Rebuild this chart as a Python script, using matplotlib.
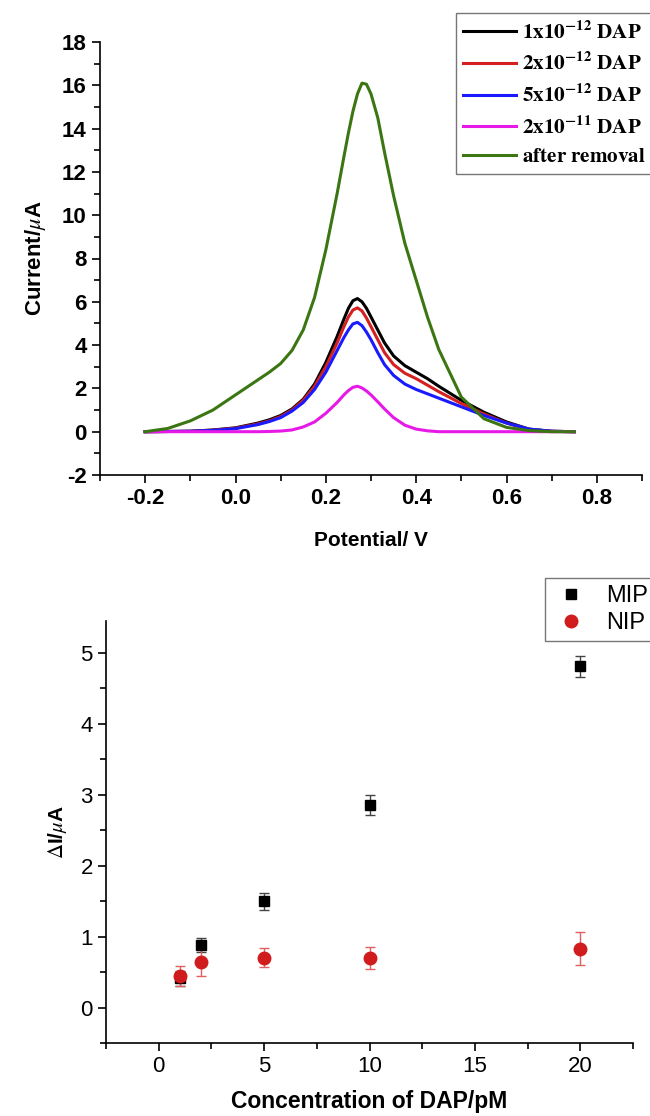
import numpy as np
import matplotlib
matplotlib.use("Agg")
import matplotlib.pyplot as plt
from matplotlib.ticker import MultipleLocator
from matplotlib.lines import Line2D

plt.rcParams['font.family'] = ['Liberation Sans', 'DejaVu Sans']
plt.rcParams['mathtext.fontset'] = 'stix'
plt.rcParams['axes.unicode_minus'] = False

#===================== DPV curves (top) =====================
pot = [-0.2, -0.15, -0.1, -0.05, 0.0, 0.05, 0.075, 0.1, 0.125, 0.15, 0.175, 0.2,
       0.225, 0.24, 0.25, 0.26, 0.27, 0.28, 0.29, 0.3, 0.315, 0.33, 0.35, 0.375,
       0.4, 0.425, 0.45, 0.5, 0.55, 0.6, 0.65, 0.7, 0.75]
i_1e12 = [0, 0.01, 0.02, 0.08, 0.18, 0.4, 0.55, 0.75, 1.05, 1.5, 2.2, 3.2,
          4.4, 5.2, 5.7, 6.05, 6.15, 6.0, 5.7, 5.3, 4.7, 4.1, 3.5, 3.05,
          2.75, 2.45, 2.1, 1.45, 0.9, 0.45, 0.12, 0.02, 0]
i_2e12 = [0, 0.01, 0.02, 0.07, 0.16, 0.36, 0.5, 0.7, 1.0, 1.45, 2.1, 3.0,
          4.1, 4.85, 5.3, 5.62, 5.72, 5.58, 5.25, 4.85, 4.25, 3.65, 3.1, 2.7,
          2.45, 2.15, 1.85, 1.3, 0.82, 0.4, 0.1, 0.02, 0]
i_5e12 = [0, 0.01, 0.02, 0.06, 0.14, 0.33, 0.47, 0.65, 0.95, 1.35, 1.95, 2.75,
          3.75, 4.35, 4.7, 4.98, 5.05, 4.9, 4.6, 4.25, 3.65, 3.1, 2.6, 2.2,
          1.95, 1.75, 1.55, 1.15, 0.75, 0.4, 0.12, 0.02, 0]
i_2e11 = [0, 0, 0, 0, 0, 0, 0.01, 0.03, 0.08, 0.22, 0.45, 0.85,
          1.35, 1.7, 1.9, 2.05, 2.1, 2.02, 1.88, 1.7, 1.38, 1.05, 0.65, 0.3,
          0.12, 0.04, 0.0, 0, 0, 0, 0, 0, 0]
i_after = [0, 0.15, 0.5, 1.0, 1.7, 2.4, 2.75, 3.15, 3.75, 4.7, 6.2, 8.4,
           11.0, 12.7, 13.8, 14.8, 15.6, 16.1, 16.05, 15.6, 14.5, 12.9, 10.9, 8.7,
           7.0, 5.3, 3.8, 1.6, 0.6, 0.2, 0.05, 0.0, 0]

labels = [r'$\mathbf{1x10^{-12}\ DAP}$', r'$\mathbf{2x10^{-12}\ DAP}$',
          r'$\mathbf{5x10^{-12}\ DAP}$', r'$\mathbf{2x10^{-11}\ DAP}$',
          r'$\mathbf{after\ removal}$']
colors = ['#000000', '#d42020', '#1a1aff', '#e619e6', '#3c7612']

#===================== calibration (bottom) =====================
conc = [1, 2, 5, 10, 20]
mip = [0.41, 0.88, 1.50, 2.85, 4.81]
mip_err = [0.11, 0.10, 0.12, 0.14, 0.15]
nip = [0.45, 0.64, 0.70, 0.70, 0.83]
nip_err = [0.14, 0.19, 0.135, 0.155, 0.235]

fig = plt.figure(figsize=(6.5, 11.16), dpi=100)

#--------- top panel
ax = fig.add_axes([100/650, 1-475/1116, 542/650, 433/1116])
for y, c, l in zip([i_1e12, i_2e12, i_5e12, i_2e11, i_after], colors, labels):
    ax.plot(pot, y, color=c, lw=2.2, label=l, solid_joinstyle='round')
ax.set_xlim(-0.3, 0.9)
ax.set_ylim(-2, 18)
ax.xaxis.set_minor_locator(MultipleLocator(0.1))
ax.yaxis.set_major_locator(MultipleLocator(2))
ax.yaxis.set_minor_locator(MultipleLocator(1))
ax.set_xticks([-0.2, 0.0, 0.2, 0.4, 0.6, 0.8])
ax.set_xticklabels(['-0.2', '0.0', '0.2', '0.4', '0.6', '0.8'])
ax.spines['top'].set_visible(False)
ax.spines['right'].set_visible(False)
for s in ['left', 'bottom']:
    ax.spines[s].set_linewidth(1.2)
ax.tick_params(which='major', direction='out', length=6, width=1.2, labelsize=16)
ax.tick_params(which='minor', direction='out', length=4, width=1.2)
for t in ax.get_xticklabels() + ax.get_yticklabels():
    t.set_fontweight('bold')
ax.set_xlabel('Potential/ V', fontsize=15, fontweight='bold', labelpad=16)
ax.set_ylabel(r'Current/$\mu$A', fontsize=16, fontweight='bold', labelpad=10)
leg = ax.legend(loc='upper left', bbox_to_anchor=(456/650, 1-13/1116),
                bbox_transform=fig.transFigure, fontsize=15.2, frameon=True,
                fancybox=False, handlelength=2.5, handletextpad=0.3,
                labelspacing=0.45, borderpad=0.35, borderaxespad=0)
leg.get_frame().set_edgecolor('#555555')
leg.get_frame().set_linewidth(1.0)

#--------- bottom panel
ax2 = fig.add_axes([106/650, 1-1043/1116, 527/650, 422/1116])
ax2.errorbar(conc, mip, yerr=mip_err, fmt='s', color='#000000', ms=7,
             ecolor='#444444', elinewidth=1.0, capsize=3.5, capthick=1.0)
ax2.errorbar(conc, nip, yerr=nip_err, fmt='o', color='#d01c1c', ms=9,
             ecolor='#e06060', elinewidth=1.0, capsize=3.5, capthick=1.0)
ax2.set_xlim(-2.5, 22.5)
ax2.set_ylim(-0.5, 5.45)
ax2.xaxis.set_minor_locator(MultipleLocator(2.5))
ax2.yaxis.set_minor_locator(MultipleLocator(0.5))
ax2.set_xticks([0, 5, 10, 15, 20])
ax2.set_yticks([0, 1, 2, 3, 4, 5])
ax2.spines['top'].set_visible(False)
ax2.spines['right'].set_visible(False)
for s in ['left', 'bottom']:
    ax2.spines[s].set_linewidth(1.2)
ax2.tick_params(which='major', direction='out', length=6, width=1.2, labelsize=16)
ax2.tick_params(which='minor', direction='out', length=4, width=1.2)
ax2.set_xlabel('Concentration of DAP/pM', fontsize=16.5, fontweight='bold', labelpad=9)
ax2.set_ylabel(r'$\Delta$I/$\mu$A', fontsize=15, fontweight='bold', labelpad=8)
handles = [Line2D([], [], ls='none', marker='s', ms=7, color='#000000'),
           Line2D([], [], ls='none', marker='o', ms=9, color='#d01c1c')]
leg2 = ax2.legend(handles, ['MIP', 'NIP'], loc='upper left',
                  bbox_to_anchor=(545/650, 1-578/1116),
                  bbox_transform=fig.transFigure, fontsize=17, frameon=True,
                  fancybox=False, handlelength=1.6, handletextpad=0.7,
                  labelspacing=0.2, borderpad=0.3, borderaxespad=0)
leg2.get_frame().set_edgecolor('#555555')
leg2.get_frame().set_linewidth(1.0)

fig.savefig('out.png', dpi=100)
